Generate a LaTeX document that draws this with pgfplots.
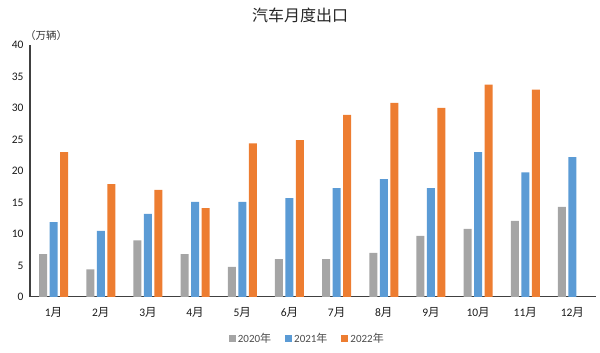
\documentclass[border=0pt]{standalone}
\usepackage{pgfplots}
\pgfplotsset{compat=1.18}
\usepackage{fontspec}
\setmainfont{Carlito}
\newfontfamily\cjk{Noto Sans CJK SC}
\definecolor{cgray}{HTML}{A5A5A5}
\definecolor{cblue}{HTML}{5B9BD5}
\definecolor{corange}{HTML}{ED7D31}
\begin{document}
\begin{tikzpicture}
\path[use as bounding box] (0,0) rectangle (600pt,353pt);
\begin{axis}[
  at={(30pt,56pt)}, anchor=south west,
  scale only axis, width=566pt, height=252pt,
  xmin=-0.5, xmax=11.5, ymin=0, ymax=40,
  axis x line*=bottom, axis y line*=left,
  axis line style={black!75, line width=1pt},
  ytick={0,5,...,40},
  xtick={0,...,11},
  xticklabels={1{\cjk 月},2{\cjk 月},3{\cjk 月},4{\cjk 月},5{\cjk 月},6{\cjk 月},7{\cjk 月},8{\cjk 月},9{\cjk 月},10{\cjk 月},11{\cjk 月},12{\cjk 月}},
  major tick length=0pt,
  /pgf/number format/assume math mode=true,
  tick label style={font=\fontsize{11.5}{13}\selectfont, text=black!90},
  yticklabel style={xshift=-3pt},
  xticklabel style={yshift=-7pt},
  ybar, bar width=8pt,
  legend style={at={(0.49,-0.165)}, anchor=center, draw=none, legend columns=3,
    font=\fontsize{11}{13}\selectfont, text=black!70,
    /tikz/every even column/.append style={column sep=12pt}},
  legend image code/.code={\fill[#1,draw=none] (0pt,-3.5pt) rectangle (7pt,3.5pt);},
]
\addplot[fill=cgray, draw=none, bar shift=-10.5pt] coordinates {
(0,6.8) (1,4.4) (2,9.0) (3,6.8) (4,4.8) (5,6.0) (6,6.0) (7,7.0) (8,9.7) (9,10.8) (10,12.1) (11,14.3)};
\addplot[fill=cblue, draw=none, bar shift=0pt] coordinates {
(0,11.9) (1,10.5) (2,13.2) (3,15.1) (4,15.1) (5,15.7) (6,17.3) (7,18.7) (8,17.3) (9,23.0) (10,19.8) (11,22.2)};
\addplot[fill=corange, draw=none, bar shift=10.5pt] coordinates {
(0,23.0) (1,17.9) (2,17.0) (3,14.1) (4,24.4) (5,24.9) (6,28.9) (7,30.8) (8,30.0) (9,33.7) (10,32.9)};
\legend{2020{\cjk 年},2021{\cjk 年},2022{\cjk 年}}
\end{axis}
\node[font=\cjk\fontsize{10.5}{12}\selectfont, text=black!80] at (46pt,317pt) {（万辆）};
\node[font=\cjk\fontsize{16}{19}\selectfont, text=black!85] at (300pt,338pt) {汽车月度出口};
\end{tikzpicture}
\end{document}
